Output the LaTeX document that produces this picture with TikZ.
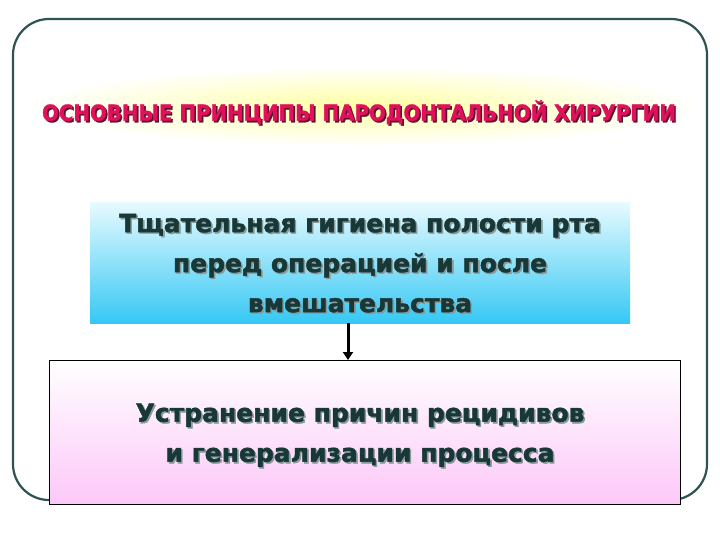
\documentclass[tikz,border=0pt]{standalone}
\usepackage{fontspec}
\setmainfont{DejaVu Sans}
\newfontfamily\heavy[BoldFeatures={FakeBold=1.8}]{DejaVu Sans}
\newfontfamily\titlefont[FakeStretch=0.9,BoldFeatures={FakeBold=1.3}]{DejaVu Sans}
\usetikzlibrary{arrows.meta}
\definecolor{frame}{HTML}{2F5252}
\definecolor{titlecol}{HTML}{E0105A}
\definecolor{titleshadow}{HTML}{5A1030}
\definecolor{textcol}{HTML}{183838}
\definecolor{textshadow}{HTML}{8A9A9A}
\definecolor{bluebot}{HTML}{36C8F4}
\definecolor{bluetop}{HTML}{E6FAFF}
\definecolor{pinkbot}{HTML}{FCC8F8}
\newcommand\shline[2]{\rlap{\kern1.6pt\raisebox{-1.6pt}{\textcolor{#1}{#2}}}#2}
\tikzset{
  bodytext/.style={align=center, font=\heavy\bfseries\fontsize{25}{40}\selectfont, text=textcol, inner sep=0pt},
  titletext/.style={font=\titlefont\bfseries\fontsize{22}{24}\selectfont, text=titlecol, inner sep=0pt},
}
\begin{document}
\begin{tikzpicture}[x=1pt,y=-1pt]
\useasboundingbox (0,0) rectangle (720,540);
\fill[white] (0,0) rectangle (720,540);
% outer frame
\draw[frame, line width=2.2pt, rounded corners=36pt] (13,19) rectangle (707,500);
% title glow
\shade[inner color=yellow!36, outer color=white] (365,106) ellipse [x radius=336, y radius=40];
% title
\node[titletext] (title) at (359,113) {\shline{titleshadow}{ОСНОВНЫЕ ПРИНЦИПЫ ПАРОДОНТАЛЬНОЙ ХИРУРГИИ}};
% blue box
\shade[top color=bluetop, bottom color=bluebot] (90,203) rectangle (630,323);
\coordinate (blueS) at (348,323);
\node[bodytext] (t1) at (360,264) {\shline{textshadow}{Тщательная гигиена полости рта}\\\shline{textshadow}{перед операцией и после}\\\shline{textshadow}{вмешательства}};
% pink box
\shade[top color=white, bottom color=pinkbot] (49,360) rectangle (680,504);
\draw[black, line width=0.8pt] (49,360) rectangle (680,504);
\coordinate (pinkN) at (348,360);
\node[bodytext] (t2) at (360,436) {\shline{textshadow}{Устранение причин рецидивов}\\\shline{textshadow}{и генерализации процесса}};
% arrow
\draw[black, line width=3pt, -{Triangle[length=8pt,width=10pt]}] (blueS) -- (pinkN);
\end{tikzpicture}
\end{document}
